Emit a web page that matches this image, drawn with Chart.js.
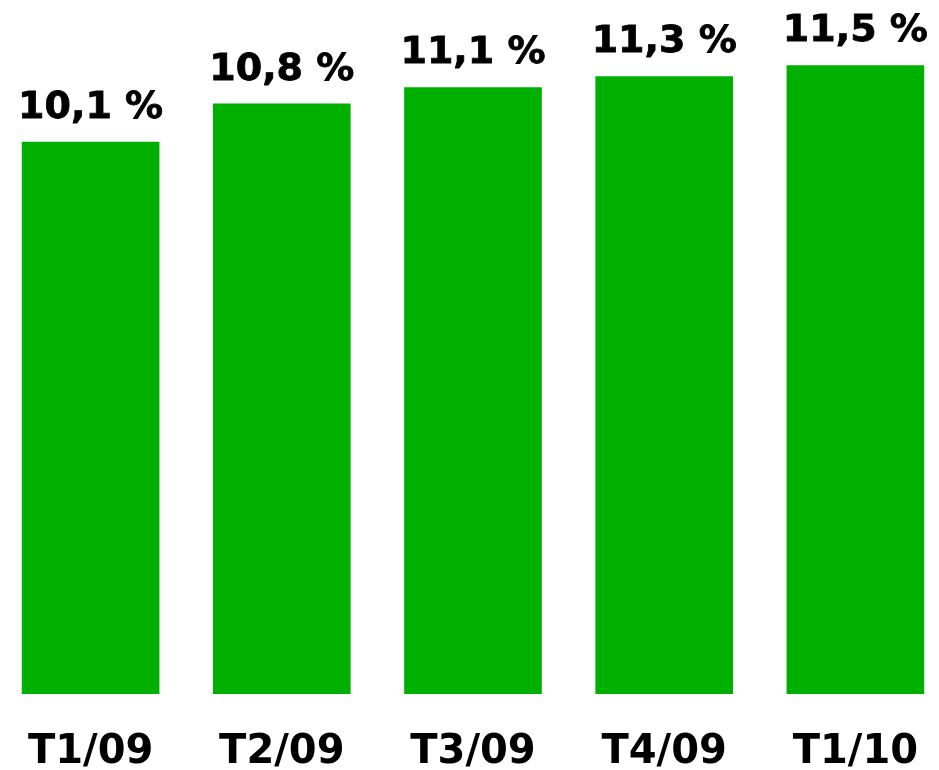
<!DOCTYPE html>
<html>
<head>
<meta charset="utf-8">
<script src="https://cdn.jsdelivr.net/npm/chart.js@4"></script>
<style>
  html, body { margin: 0; padding: 0; background: #fff; overflow: hidden; }
  #wrap { position: absolute; left: -5px; top: 0; width: 956px; height: 804px; }
</style>
</head>
<body>
<div id="wrap"><canvas id="mychart"></canvas></div>
<script>
var labelsArray = ['T1/09', 'T2/09', 'T3/09', 'T4/09', 'T1/10'];
var values = [10.1, 10.8, 11.1, 11.3, 11.5];

// étiquettes au-dessus des barres
var valueLabels = {
  id: 'valueLabels',
  afterDatasetsDraw: function(chart) {
    var ctx = chart.ctx;
    var meta = chart.getDatasetMeta(0);
    ctx.save();
    ctx.font = 'bold 38px "DejaVu Sans"';
    ctx.fillStyle = '#000';
    ctx.strokeStyle = '#000';
    ctx.lineWidth = 0.8;
    ctx.textAlign = 'center';
    ctx.textBaseline = 'alphabetic';
    meta.data.forEach(function(bar, i) {
      var txt = values[i].toFixed(1).replace('.', ',') + ' %';
      ctx.fillText(txt, bar.x, bar.y - 24);
      ctx.strokeText(txt, bar.x, bar.y - 24);
    });
    ctx.restore();
  }
};

var ctx = document.getElementById('mychart');
var myChart = new Chart(ctx, {
  type: 'bar',
  data: {
    labels: labelsArray,
    datasets: [{
      data: values,
      backgroundColor: '#00b000'
    }]
  },
  options: {
    responsive: true,
    maintainAspectRatio: false,
    animation: false,
    layout: { padding: { top: 38, bottom: 0, left: 0, right: 0 } },
    plugins: { legend: { display: false }, tooltip: { enabled: false } },
    scales: {
      x: {
        grid: { display: false },
        border: { display: false },
        ticks: { color: '#000', font: { family: 'DejaVu Sans', size: 40, weight: 'bold' }, padding: 27 }
      },
      y: {
        display: false,
        min: 0,
        max: 12
      }
    }
  },
  plugins: [valueLabels]
});
</script>
</body>
</html>
